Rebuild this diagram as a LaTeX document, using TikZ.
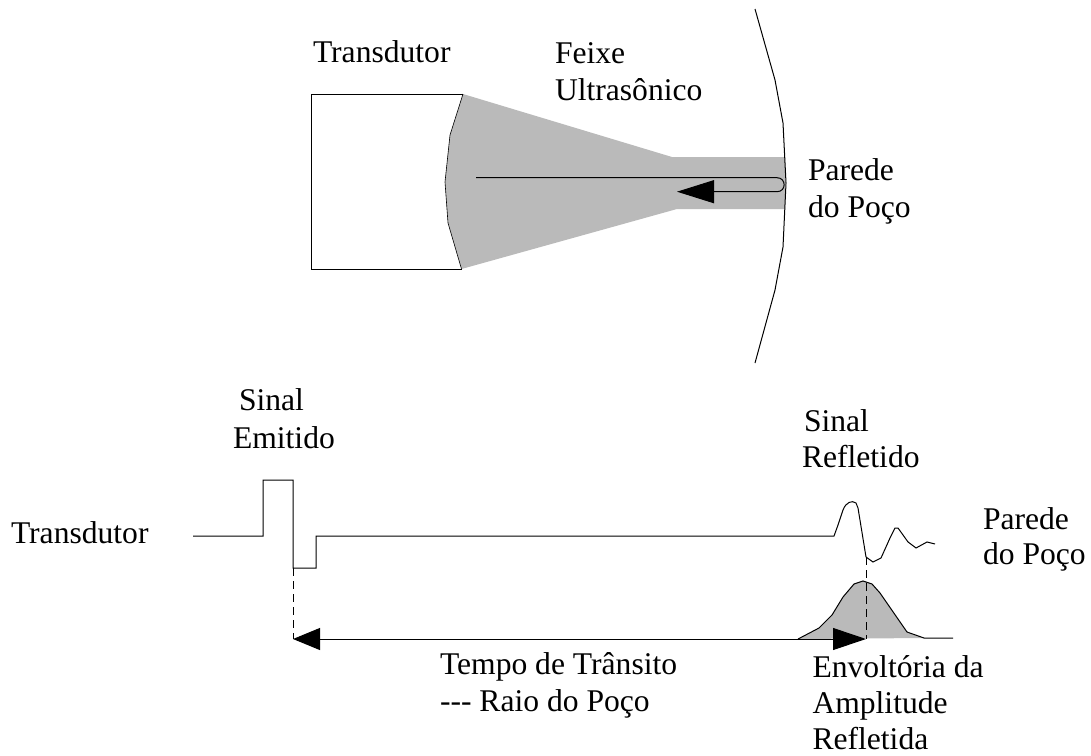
\documentclass[tikz,border=0pt]{standalone}
\usepackage{fontspec}
\setmainfont{Liberation Serif}
\usetikzlibrary{arrows.meta}
\definecolor{beamgray}{HTML}{BABABA}
\tikzset{
  lbl/.style={anchor=base west,inner sep=0pt,outer sep=0pt,font=\fontsize{31.6}{32}\selectfont},
  ln/.style={line width=1pt,line join=miter},
  bigtip/.style={-{Triangle[length=37pt,width=23pt]}},
  dbltip/.style={{Triangle[length=27pt,width=22pt]}-{Triangle[length=33pt,width=22pt]}},
  dashln/.style={line width=1pt,dash pattern=on 8pt off 5pt}
}
\begin{document}
\begin{tikzpicture}[x=1pt,y=-1pt]
\useasboundingbox (0,0) rectangle (1091,755);
% beam
\fill[beamgray] (463,94) -- (450,135) -- (445,182) -- (448,223) -- (461.5,269) -- (677,209) -- (785,209) -- (785,157) -- (672,157) -- cycle;
% transducer box
\coordinate (bt) at (463,94);
\coordinate (bb) at (461.5,269);
\draw[ln] (bt) -- (311,94) -- (311,269) -- (bb);
\draw[line width=.6pt] (bt) -- (450,135) -- (445,182) -- (448,223) -- (bb);
% wall
\coordinate (wt) at (755,9);
\coordinate (wb) at (755,363);
\draw[ln] (wt) -- (775,80) -- (783,123) -- (786,183) -- (783,247) -- (775,290) -- (wb);
% beam path
\coordinate (ps) at (476,177.7);
\coordinate (pe) at (677,191.7);
\draw[ln,bigtip] (ps) -- (777,177.7) .. controls (786.5,177.7) and (786.5,191.7) .. (777,191.7) -- (pe);
% emitted pulse
\coordinate (s0) at (193,536);
\coordinate (s1) at (293,568);
\draw[ln] (s0) -- (263,536) -- (263,480) -- (293,480) -- (s1) -- (316,568) -- (316,536) -- (834,536)
  -- (838,525) -- (843,510) .. controls (846,502) and (852,500) .. (856,503) -- (858,508) -- (866,557) -- (873,562) -- (881,558) -- (890,538) -- (895,528) -- (898,528) -- (908,542) -- (916,548) -- (927,542) -- (935,544);
% envelope
\fill[beamgray] (798,639) -- (819,628) -- (832,615) -- (843,597) -- (854,584) -- (863,581) -- (872,584) -- (880,593) -- (907,632) -- (924,638) -- cycle;
\draw[ln] (798,639) -- (819,628) -- (832,615) -- (843,597) -- (854,584) -- (863,581) -- (872,584) -- (880,593) -- (907,632) -- (924,638) -- (953,638);
% dashes
\coordinate (a1) at (293,639);
\coordinate (a2) at (866,639);
\coordinate (s2) at (866,557);
\draw[dashln] (s1) -- (a1);
\draw[dashln] (s2) -- (a2);
\draw[ln,dbltip] (a1) -- (a2);
% labels
\node[lbl] (t1) at (313,62) {Transdutor};
\node[lbl] (t2) at (555,63.5) {Feixe};
\node[lbl] (t3) at (555,100) {Ultrasônico};
\node[lbl] (t4) at (808,180) {Parede};
\node[lbl] (t5) at (808,217) {do Poço};
\node[lbl] (t6) at (239,410) {Sinal};
\node[lbl] (t7) at (233,448) {Emitido};
\node[lbl] (t8) at (11,543) {Transdutor};
\node[lbl] (t9) at (804,431) {Sinal};
\node[lbl] (t10) at (802,467) {Refletido};
\node[lbl] (t11) at (983,529) {Parede};
\node[lbl] (t12) at (983,564) {do Poço};
\node[lbl] (t13) at (440,674) {Tempo de Trânsito};
\node[lbl] (t14) at (440,711) {-{}-{}- Raio do Poço};
\node[lbl] (t15) at (812.5,677) {Envoltória da};
\node[lbl] (t16) at (812.5,713) {Amplitude};
\node[lbl] (t17) at (812.5,749) {Refletida};
\end{tikzpicture}
\end{document}
